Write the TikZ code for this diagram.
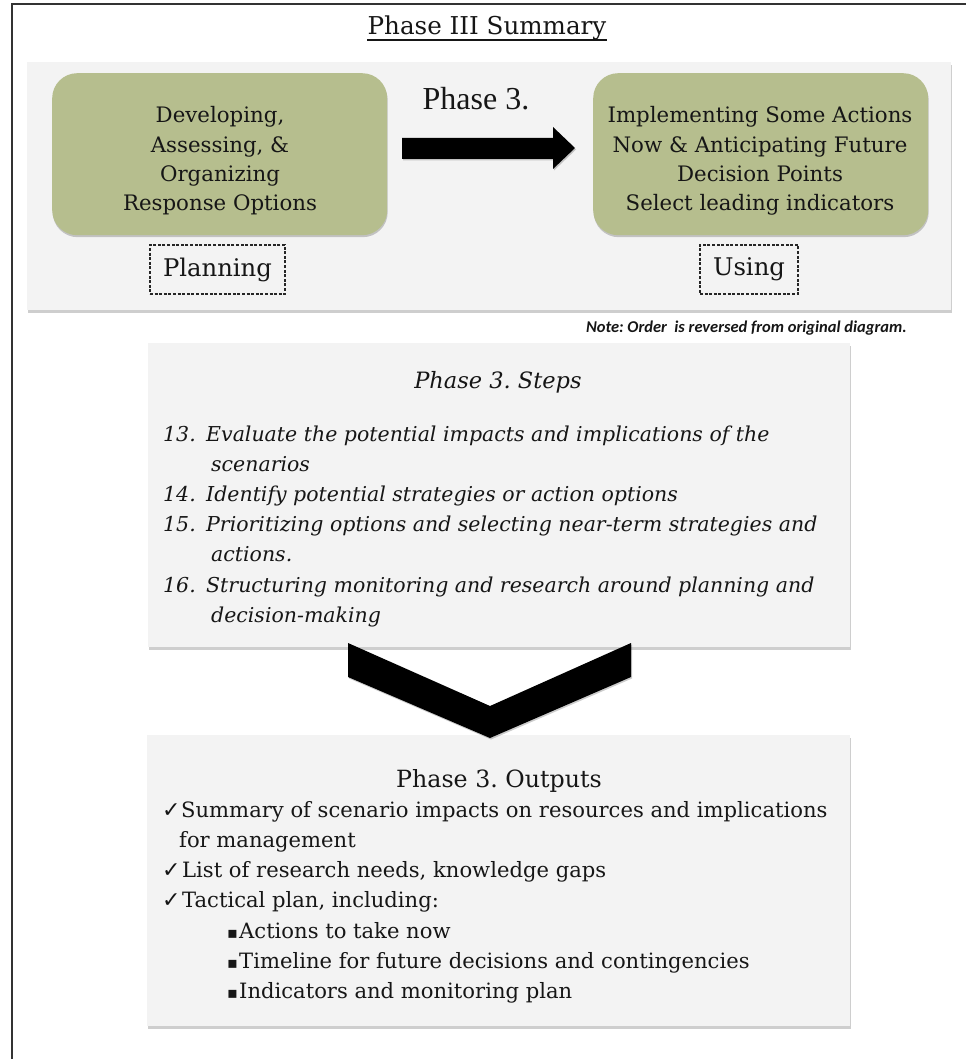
\documentclass[tikz,border=0pt]{standalone}
\usepackage{fontspec}
\setmainfont{DejaVu Serif}
\newfontfamily\timesfont{Liberation Serif}
\newfontfamily\notefont{Carlito}
\newfontfamily\symfont{DejaVu Sans}
\usetikzlibrary{shadows}
\frenchspacing
\definecolor{panelgray}{HTML}{F3F3F3}
\definecolor{sage}{HTML}{B6BE8E}
\definecolor{ink}{HTML}{161616}
\newcommand\fsz[2]{\fontsize{#1pt}{#2pt}\selectfont}

\begin{document}
\begin{tikzpicture}[x=1pt,y=-1pt,
  every node/.style={inner sep=0pt, text=ink},
  softshadow/.style={drop shadow={shadow xshift=1pt, shadow yshift=-2.5pt, opacity=0.35, fill=black!55}},
  panel/.style={fill=panelgray, draw=none, softshadow, anchor=north west},
  sagebox/.style={fill=sage, rounded corners=25pt, anchor=north west,
    drop shadow={shadow xshift=0.5pt, shadow yshift=-2pt, opacity=0.2, fill=black}},
  tagbox/.style={draw=black!85, line width=1.7pt, dash pattern=on 3pt off 1.6pt,
    minimum height=49pt, font=\fsz{24.3}{29}},
  greentext/.style={align=center, font=\fsz{21.3}{29.3}},
  steptext/.style={anchor=base west, font=\fsz{20.5}{24}\itshape},
  outtext/.style={anchor=base west, font=\fsz{21.1}{25}},
  checkmark/.style={anchor=base west, font=\symfont\fsz{22}{24}},
  squarebullet/.style={anchor=base west, font=\symfont\fsz{16}{18}},
  bigarrow/.style={fill=black, drop shadow={shadow xshift=1pt, shadow yshift=-1.5pt, opacity=0.2, fill=black}}
]
\useasboundingbox (0,0) rectangle (966,1059);

% frame
\coordinate (fbl) at (12,1059);
\coordinate (ftl) at (12,4);
\coordinate (ftr) at (966,4);
\draw[line width=2pt, black!80] (fbl) -- (ftl) -- (ftr);

% title
\node[font=\fsz{24.6}{30}, anchor=base] (title) at (487,35) {Phase III Summary};
\draw[line width=1.3pt, ink] ([yshift=-5pt]title.base west) -- ([yshift=-5pt]title.base east);

% upper panel with the two stages
\node[panel, minimum width=924pt, minimum height=248pt] (toppanel) at (27,62) {};
\node[sagebox, minimum width=335pt, minimum height=162pt] (devbox) at (52,73) {};
\node[sagebox, minimum width=335pt, minimum height=162pt] (impbox) at (593,73) {};
\node[greentext] (devtext) at (220,161) {Developing,\\Assessing, \&\\Organizing\\Response Options};
\node[greentext] (imptext) at (760,161) {Implementing Some Actions\\Now \& Anticipating Future\\Decision Points\\Select leading indicators};

\node[font=\timesfont\fsz{32}{38}, anchor=base] (phase) at (476,110) {Phase 3.};

% block arrow between the stages
\coordinate (a1) at (402,138);
\coordinate (a2) at (553,138);
\coordinate (a3) at (553,127);
\coordinate (a4) at (575,148);
\coordinate (a5) at (553,169);
\coordinate (a6) at (553,159);
\coordinate (a7) at (402,159);
\fill[bigarrow] (a1) -- (a2) -- (a3) -- (a4) -- (a5) -- (a6) -- (a7) -- cycle;

\node[tagbox, minimum width=135pt] (plan) at (217.5,269.5) {Planning};
\node[tagbox, minimum width=98pt] (using) at (749,269.5) {Using};

\node[font=\notefont\fsz{16.5}{19}\bfseries\itshape, anchor=base east] (note) at (907,332) {Note: Order\ \ is reversed from original diagram.};

% steps panel
\node[panel, minimum width=702pt, minimum height=304pt] (steps) at (148,343) {};
\node[font=\fsz{22.5}{28}\itshape, anchor=base] (stitle) at (498,388) {Phase 3. Steps};

\node[steptext] (n13) at (163,441) {13.};
\node[steptext] (t13) at (206,441) {Evaluate the potential impacts and implications of the};
\node[steptext] (c13) at (211,471) {scenarios};
\node[steptext] (n14) at (163,501) {14.};
\node[steptext] (t14) at (206,501) {Identify potential strategies or action options};
\node[steptext] (n15) at (163,531) {15.};
\node[steptext] (t15) at (206,531) {Prioritizing options and selecting near-term strategies and};
\node[steptext] (c15) at (211,561) {actions.};
\node[steptext] (n16) at (163,592) {16.};
\node[steptext] (t16) at (206,592) {Structuring monitoring and research around planning and};
\node[steptext] (c16) at (211,622) {decision-making};

% outputs panel
\node[panel, minimum width=703pt, minimum height=291pt] (outputs) at (147,735) {};
\node[font=\fsz{23.7}{28}, anchor=base] (otitle) at (499,787) {Phase 3. Outputs};

\node[checkmark] (k1) at (162,817) {✓};
\node[outtext] (o1) at (181,817) {Summary of scenario impacts on resources and implications};
\node[outtext] (o1b) at (179,847) {for management};
\node[checkmark] (k2) at (162,877) {✓};
\node[outtext] (o2) at (182,877) {List of research needs, knowledge gaps};
\node[checkmark] (k3) at (162,907) {✓};
\node[outtext] (o3) at (182,907) {Tactical plan, including:};
\node[squarebullet] (b1) at (227,938) {▪};
\node[outtext] (p1) at (239,938) {Actions to take now};
\node[squarebullet] (b2) at (227,968) {▪};
\node[outtext] (p2) at (239,968) {Timeline for future decisions and contingencies};
\node[squarebullet] (b3) at (227,998) {▪};
\node[outtext] (p3) at (239,998) {Indicators and monitoring plan};

% chevron from steps down to outputs
\coordinate (v1) at (348,643);
\coordinate (v2) at (490,706);
\coordinate (v3) at (631,643);
\coordinate (v4) at (631,677);
\coordinate (v5) at (490,738);
\coordinate (v6) at (348,677);
\fill[bigarrow] (v1) -- (v2) -- (v3) -- (v4) -- (v5) -- (v6) -- cycle;
\end{tikzpicture}
\end{document}
